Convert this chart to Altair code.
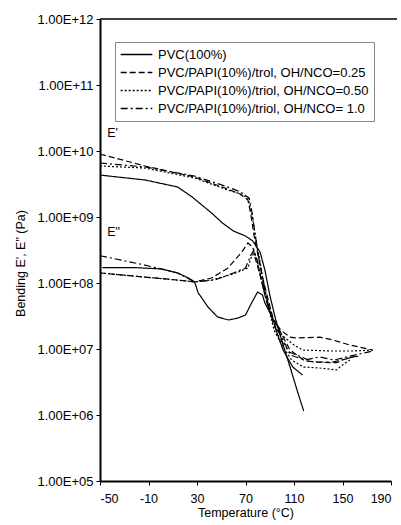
import altair as alt
import pandas as pd

SERIES = [
    "PVC(100%)",
    "PVC/PAPI(10%)/trol, OH/NCO=0.25",
    "PVC/PAPI(10%)/triol, OH/NCO=0.50",
    "PVC/PAPI(10%)/triol, OH/NCO= 1.0",
]
DASHES = [[1, 0], [6, 3], [2, 2], [7, 3, 2, 3]]

# PVC(100%)
pvc_e1_t = [-50, -13, 14, 26, 42, 51, 60, 70, 76, 82, 86, 90, 95, 101, 107, 112.5, 118]
pvc_e1_v = [4.32e9, 3.64e9, 2.85e9, 2.01e9, 1.15e9, 8.1e8, 6.14e8, 5.15e8, 4.33e8, 2.95e8,
            1.57e8, 6.58e7, 2.75e7, 1.15e7, 5.15e6, 2.39e6, 1.15e6]
pvc_e2_t = [-48, -21, 1, 14, 23, 28, 31, 34, 39, 47, 56, 64, 70, 75, 80, 84, 86, 92, 96, 101, 109, 117]
pvc_e2_v = [1.71e8, 1.71e8, 1.63e8, 1.42e8, 1.19e8, 1.04e8, 7.05e7, 5.93e7, 4.33e7, 3.05e7,
            2.75e7, 2.95e7, 3.27e7, 4.98e7, 7.31e7, 6.58e7, 4.98e7, 3.05e7, 1.75e7, 9.66e6,
            5.33e6, 4.04e6]

# OH/NCO = 0.25 (dashed)
d25_e1_t = [-50, -13, 28, 53, 65.5, 72, 74.5, 77, 80.3, 83.6, 87.7, 92.7, 106.7, 119, 131, 145.5, 150, 156, 164]
d25_e1_v = [9.0e9, 5.93e9, 4.04e9, 2.75e9, 2.23e9, 1.81e9, 1.07e9, 5.33e8, 2.65e8, 1.32e8,
            6.58e7, 2.95e7, 9.66e6, 6.6e6, 6.3e6, 6.2e6, 6.8e6, 7.4e6, 8.0e6]
d25_e2_t = [-50, -13, 14, 28, 42, 55.6, 67, 72, 76, 78, 82, 87, 92, 99, 106.7, 112.5, 131.4, 142, 156, 175]
d25_e2_v = [1.42e8, 1.23e8, 1.11e8, 1.04e8, 1.19e8, 1.69e8, 2.95e8, 4.04e8, 3.51e8, 2.39e8,
            1.32e8, 5.52e7, 2.95e7, 1.94e7, 1.51e7, 1.47e7, 1.51e7, 1.37e7, 1.15e7, 9.66e6]

# OH/NCO = 0.50 (dotted)
d50_e1_t = [-50, -13, 28, 53, 66, 72, 75.5, 78.7, 82, 85, 89.5, 93.5, 100, 108, 118, 131, 145, 150, 156]
d50_e1_v = [5.93e9, 5.52e9, 3.9e9, 2.65e9, 2.23e9, 1.94e9, 1.07e9, 4.49e8, 2.08e8, 9.33e7,
            3.9e7, 1.94e7, 1.15e7, 6.81e6, 5.33e6, 5.15e6, 4.81e6, 5.72e6, 6.81e6]
d50_e2_t = [-50, -13, 28, 42, 60, 72, 74.5, 77, 79, 83, 88, 93, 100, 110, 117, 140, 160, 175]
d50_e2_v = [1.42e8, 1.23e8, 1.04e8, 1.11e8, 1.37e8, 1.69e8, 2.39e8, 2.85e8, 2.39e8, 1.19e8,
            5.15e7, 2.75e7, 1.63e7, 1.15e7, 9.66e6, 9.33e6, 9.33e6, 9.66e6]

# OH/NCO = 1.0 (dash-dot)
d10_e1_t = [-50, -13, 28, 53, 66, 73, 75.5, 78, 81, 84.5, 88.5, 92.5, 98, 106, 126, 142, 159, 165]
d10_e1_v = [6.58e9, 5.73e9, 4.18e9, 2.95e9, 2.39e9, 1.94e9, 1.15e9, 5.33e8, 2.39e8, 1.11e8,
            4.98e7, 2.56e7, 1.47e7, 9.02e6, 6.35e6, 6.35e6, 7.57e6, 7.83e6]
d10_e2_t = [-50, -13, 14, 28, 45, 60, 70, 74.5, 77, 80, 84, 89, 94, 101, 107, 119, 131, 143, 160, 175]
d10_e2_v = [2.59e8, 1.87e8, 1.42e8, 1.04e8, 1.11e8, 1.42e8, 1.69e8, 2.65e8, 3.16e8, 2.08e8,
            9.33e7, 4.18e7, 2.31e7, 1.37e7, 8.11e6, 6.81e6, 7.57e6, 6.81e6, 8.11e6, 9.33e6]

curves = [
    (SERIES[0], "E1", pvc_e1_t, pvc_e1_v),
    (SERIES[0], "E2", pvc_e2_t, pvc_e2_v),
    (SERIES[1], "E1", d25_e1_t, d25_e1_v),
    (SERIES[1], "E2", d25_e2_t, d25_e2_v),
    (SERIES[2], "E1", d50_e1_t, d50_e1_v),
    (SERIES[2], "E2", d50_e2_t, d50_e2_v),
    (SERIES[3], "E1", d10_e1_t, d10_e1_v),
    (SERIES[3], "E2", d10_e2_t, d10_e2_v),
]
rows = []
for s, c, ts, vs in curves:
    for t, v in zip(ts, vs):
        rows.append({"series": s, "curve": s + c, "T": t, "E": v})
df = pd.DataFrame(rows)

ann_text = ["E'", 'E"']
ann_t = [-44, -44]
ann_v = [1.86e10, 5.9e8]
ann = pd.DataFrame({"label": ann_text, "T": ann_t, "E": ann_v})

FONT = "Liberation Sans"

xscale = alt.Scale(domain=[-50, 190], nice=False)
yscale = alt.Scale(type="log", domain=[1e5, 1e12], nice=False)

lines = alt.Chart(df).mark_line(color="black", strokeWidth=1.2).encode(
    x=alt.X("T:Q", scale=xscale,
            axis=alt.Axis(title="Temperature (°C)", values=[-50, -10, 30, 70, 110, 150, 190],
                          labelExpr="datum.value + ''",
                          grid=False, tickSize=4, labelPadding=7, titlePadding=2,
                          labelFontSize=12.5,
                          domainWidth=2, domainColor="black", tickColor="black")),
    y=alt.Y("E:Q", scale=yscale,
            axis=alt.Axis(title="Bending E', E\" (Pa)",
                          values=[1e5, 1e6, 1e7, 1e8, 1e9, 1e10, 1e11, 1e12],
                          labelExpr="'1.00E+' + (datum.value < 1e10 ? '0' : '') + format(log(datum.value)/LN10, '.0f')",
                          grid=False, tickSize=4, labelPadding=3, labelFontSize=13,
                          domainWidth=2, domainColor="black", tickColor="black",
                          titleX=-80, titleY=244, titleAngle=270, titleAlign="center",
                          titleBaseline="middle")),
    strokeDash=alt.StrokeDash("series:N", scale=alt.Scale(domain=SERIES, range=DASHES),
                              legend=alt.Legend(title=None, orient="none", legendX=15, legendY=23,
                                                strokeColor="#888888", padding=5,
                                                symbolType="stroke", symbolSize=1000,
                                                symbolStrokeWidth=1.3, symbolStrokeColor="black",
                                                labelFontSize=13, labelFont=FONT, labelLimit=400,
                                                clipHeight=15, rowPadding=3, labelOffset=5)),
    detail="curve:N",
)

labels = alt.Chart(ann).mark_text(align="left", baseline="middle", fontSize=12.5, font=FONT,
                                  color="black").encode(
    x=alt.X("T:Q", scale=xscale), y=alt.Y("E:Q", scale=yscale), text="label:N")

topline = alt.Chart(pd.DataFrame({"a": [0]})).mark_rule(color="black", strokeWidth=1.5).encode(
    x=alt.value(0), x2=alt.value(297), y=alt.value(0))

chart = alt.layer(lines, labels, topline).properties(
    width=291, height=462,
    autosize=alt.AutoSizeParams(type="none"),
    padding={"left": 100, "top": 19, "right": 10, "bottom": 44},
).configure_view(stroke=None).configure_axis(
    labelFont=FONT, titleFont=FONT, labelFontSize=12, titleFontSize=12.5,
    labelColor="black", titleColor="black", titleFontWeight="normal",
)

chart.save("out.html", embed_options={"renderer": "svg", "actions": False})
